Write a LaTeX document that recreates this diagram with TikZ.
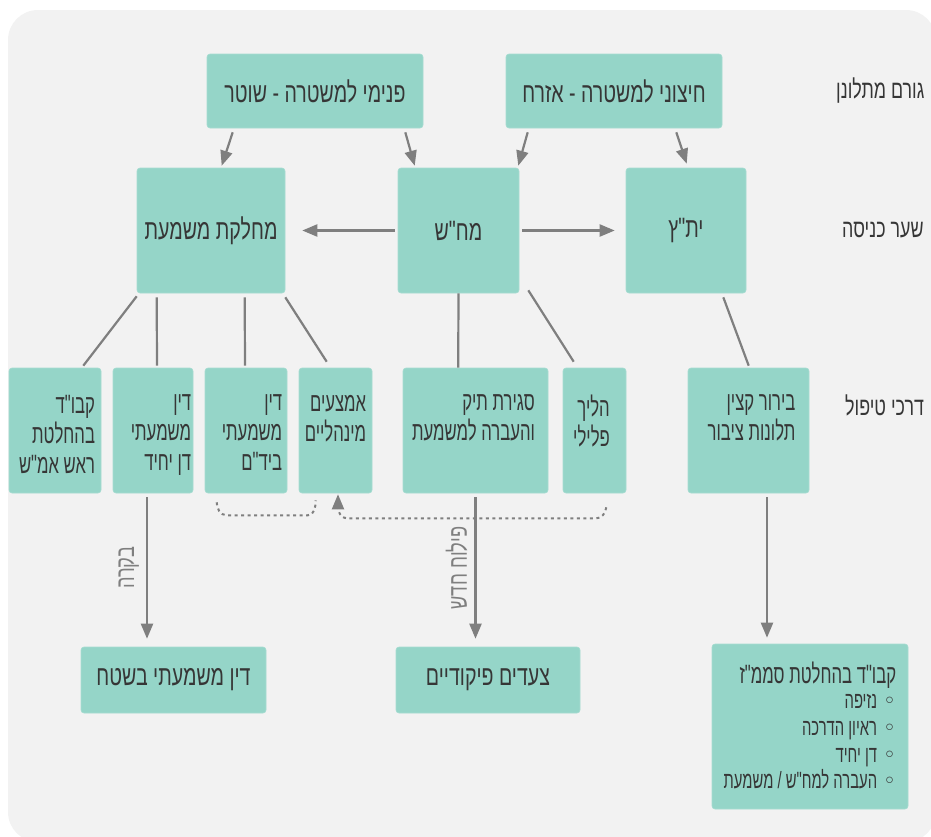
\documentclass[tikz,border=0pt]{standalone}
\usepackage{fontspec}
\usetikzlibrary{arrows.meta,calc}
\TeXXeTstate=1
\newfontfamily\hebA[Script=Hebrew,FakeStretch=0.7]{Liberation Sans}
\newfontfamily\hebB[Script=Hebrew,FakeStretch=0.63]{Liberation Sans}
\newfontfamily\dvs{DejaVu Sans}
\newcommand{\hb}[1]{\beginR #1\endR}
\newcommand{\bul}{{\dvs\fontsize{22}{22}\selectfont ◦}\hspace{6pt}}
\definecolor{bgc}{HTML}{F2F2F2}
\definecolor{boxc}{HTML}{95D5C8}
\definecolor{boxd}{HTML}{A6DCD1}
\definecolor{txt}{HTML}{363636}
\definecolor{arc}{HTML}{7F7F7F}
\tikzset{
  bx/.style={rectangle, rounded corners=3pt, fill=boxc, draw=boxd, line width=0.6pt, inner sep=0pt, text=txt, font=\hebA\fontsize{28}{30}\selectfont},
  lbl/.style={inner sep=0pt, text=txt, align=right, font=\hebB\fontsize{26.5}{30}\selectfont},
  sm/.style={inner sep=0pt, text=txt, anchor=base east, font=\hebB\fontsize{23.5}{26}\selectfont},
  side/.style={inner sep=0pt, text=txt, anchor=west, font=\hebA\fontsize{25.5}{30}\selectfont},
  arr/.style={draw=arc, line width=2.2pt, -{Triangle[length=15pt,width=12pt]}},
  ln/.style={draw=arc, line width=2.2pt},
  dsh/.style={draw=arc, line width=2pt, dash pattern=on 3pt off 3.5pt},
  rlbl/.style={inner xsep=0pt, inner ysep=7pt, text=arc, rotate=90, anchor=south, font=\hebA\fontsize{26}{30}\selectfont}
}
\begin{document}
\begin{tikzpicture}[x=1pt,y=-1pt]
\useasboundingbox (0,0) rectangle (931,836);
\fill[bgc, rounded corners=30pt] (8,10) rectangle (936,842);

% row 1
\node[bx, minimum width=216pt, minimum height=74pt] (pnimi) at (315,91) {\hb{פנימי למשטרה - שוטר}};
\node[bx, minimum width=216pt, minimum height=74pt] (hitzoni) at (614,91) {\hb{חיצוני למשטרה - אזרח}};
% row 2
\node[bx, minimum width=148pt, minimum height=125pt] (mahlaka) at (211,230.5) {\hb{מחלקת משמעת}};
\node[bx, minimum width=121pt, minimum height=125pt] (mahash) at (458.5,230.5) {\hb{מח"ש}};
\node[bx, minimum width=120pt, minimum height=125pt] (yatatz) at (686,230.5) {\hb{ית"ץ}};
% row 3
\node[bx, minimum width=92pt, minimum height=125pt] (kavud) at (55,430.5) {};
\node[bx, minimum width=80pt, minimum height=125pt] (yahid) at (153,430.5) {};
\node[bx, minimum width=82pt, minimum height=125pt] (bydm) at (246,430.5) {};
\node[bx, minimum width=73pt, minimum height=125pt] (amtzaim) at (335.5,430.5) {};
\node[bx, minimum width=145pt, minimum height=125pt] (sgirat) at (475.5,430.5) {};
\node[bx, minimum width=63pt, minimum height=125pt] (plili) at (594.5,430.5) {};
\node[bx, minimum width=121pt, minimum height=125pt] (birur) at (748.5,430.5) {};
% row 3 texts
\node[lbl, anchor=north] (tkavud) at ($(kavud.north)+(2,27)$) {\hb{קבו"ד}\\\hb{בהחלטת}\\\hb{ראש אמ"ש}};
\node[lbl, anchor=north] (tyahid) at ($(yahid.north)+(8,27)$) {\hb{דין}\\\hb{משמעתי}\\\hb{דן יחיד}};
\node[lbl, anchor=north] (tbydm) at ($(bydm.north)+(6,27)$) {\hb{דין}\\\hb{משמעתי}\\\hb{ביד"ם}};
\node[lbl, anchor=north] (tamtzaim) at ($(amtzaim.north)+(0,27)$) {\hb{אמצעים}\\\hb{מינהליים}};
\node[lbl, anchor=north] (tsgirat) at ($(sgirat.north)+(-2,27)$) {\hb{סגירת תיק}\\\hb{והעברה למשמעת}};
\node[lbl, anchor=north] (tplili) at ($(plili.north)+(-3,27)$) {\hb{הליך}\\\hb{פלילי}};
\node[lbl, anchor=north] (tbirur) at ($(birur.north)+(3,27)$) {\hb{בירור קצין}\\\hb{תלונות ציבור}};
% row 4
\node[bx, minimum width=185pt, minimum height=66pt] (shetah) at (173.5,680) {\hb{דין משמעתי בשטח}};
\node[bx, minimum width=184pt, minimum height=66pt] (tzeadim) at (488,680) {\hb{צעדים פיקודיים}};
\node[bx, minimum width=196pt, minimum height=165pt] (smmz) at (810,726.5) {};
\node[sm, font=\hebB\fontsize{26.5}{28}\selectfont] (tsmmz) at ($(smmz.north east)+(-12,40)$) {\hb{קבו"ד בהחלטת סממ"ז}};
\node[sm] (b1) at ($(smmz.north east)+(-12,65)$) {\hb{\bul נזיפה}};
\node[sm] (b2) at ($(smmz.north east)+(-12,92)$) {\hb{\bul ראיון הדרכה}};
\node[sm] (b3) at ($(smmz.north east)+(-12,119)$) {\hb{\bul דן יחיד}};
\node[sm] (b4) at ($(smmz.north east)+(-12,145)$) {\hb{\bul העברה למח"ש / משמעת}};

% side labels
\node[side] (s1) at (836,91) {\hb{גורם מתלונן}};
\node[side] (s2) at (842,230) {\hb{שער כניסה}};
\node[side] (s3) at (845,405) {\hb{דרכי טיפול}};

% arrows row1 -> row2
\draw[arr] ($(pnimi.south west)+(26,4)$) -- ($(mahlaka.north west)+(85,-2)$);
\draw[arr] ($(pnimi.south east)+(-18,4)$) -- ($(mahash.north west)+(17,-2)$);
\draw[arr] ($(hitzoni.south west)+(22,4)$) -- ($(mahash.north east)+(-1,-2)$);
\draw[arr] ($(hitzoni.south east)+(-46,4)$) -- ($(yatatz.north west)+(61,-4)$);
% horizontal
\draw[arr] ($(mahash.west)+(-3,0)$) -- ($(mahlaka.east)+(17,0)$);
\draw[arr] ($(mahash.east)+(3,0)$) -- ($(yatatz.west)+(-11,0)$);
% lines row2 -> row3
\draw[ln] ($(mahlaka.south west)+(0,3)$) -- ($(kavud.north east)+(-18,-2)$);
\draw[ln] ($(mahlaka.south west)+(20,4)$) -- ($(yahid.north)+(4,-2)$);
\draw[ln] ($(mahlaka.south west)+(108,4)$) -- ($(bydm.north)+(-1,-2)$);
\draw[ln] ($(mahlaka.south east)+(0,4)$) -- ($(amtzaim.north west)+(28,-6)$);
\draw[ln] (mahash.south) -- ($(sgirat.north west)+(55.5,0)$);
\draw[ln] ($(mahash.south east)+(9,-3)$) -- ($(plili.north west)+(11,-6)$);
\draw[ln] ($(yatatz.south east)+(-23,4)$) -- ($(birur.north west)+(61,-2)$);
% row3 -> row4
\draw[arr] ($(yahid.south)+(-6,4)$) -- node[rlbl, pos=0.5] (lbikoret) {\hb{בקרה}} ($(shetah.north)+(-26.5,-8)$);
\draw[arr] ($(sgirat.south)+(0,4)$) -- node[rlbl, pos=0.5] (lpilluah) {\hb{פילוח חדש}} ($(tzeadim.north)+(-12.5,-8)$);
\draw[arr] ($(birur.south)+(18.5,4)$) -- ($(smmz.north)+(-43,-6)$);
% dashed
\draw[dsh] ($(bydm.south west)+(12,9)$) to[out=-90,in=180] ($(bydm.south west)+(22,22)$) -- ($(amtzaim.south west)+(9,22)$) to[out=0,in=-90] ($(amtzaim.south west)+(17,7)$);
\draw[dsh, -{Triangle[length=15pt,width=12pt]}] ($(plili.south east)+(-20,14)$) to[out=-100,in=0] ($(plili.south east)+(-30,25)$) -- ($(amtzaim.south)+(12,25)$) to[out=180,in=-90] ($(amtzaim.south)+(2.5,1)$);
\end{tikzpicture}
\end{document}
